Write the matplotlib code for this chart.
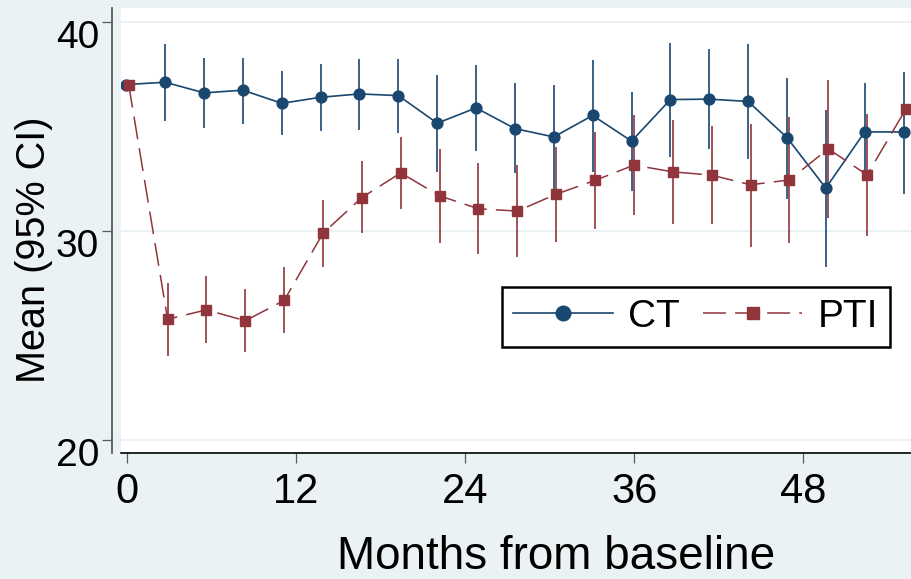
import numpy as np
import matplotlib
matplotlib.use("Agg")
import matplotlib.pyplot as plt
import matplotlib.transforms as mtransforms

plt.rcParams['font.family'] = ['Liberation Sans', 'DejaVu Sans']

# months from baseline (12-week visits)
months = [0, 2.76, 5.52, 8.28, 11.04, 13.8, 16.56, 19.32, 22.08, 24.84, 27.6,
          30.36, 33.12, 35.88, 38.64, 41.4, 44.16, 46.92, 49.68, 52.44, 55.2]

ct_mean = [37.02, 37.13, 36.62, 36.75, 36.12, 36.41, 36.57, 36.49, 35.17, 35.90, 34.91,
           34.51, 35.54, 34.31, 36.30, 36.32, 36.21, 34.48, 32.06, 34.75, 34.75]
ct_lo = [np.nan, 35.28, 34.94, 35.15, 34.58, 34.80, 34.83, 34.70, 32.81, 33.84, 32.76,
         31.99, 32.84, 31.93, 33.56, 33.91, 33.43, 31.56, 28.26, 32.92, 31.80]
ct_hi = [np.nan, 38.95, 38.29, 38.29, 37.66, 37.99, 38.23, 38.26, 37.46, 37.94, 37.07,
         36.99, 38.18, 36.67, 39.01, 38.71, 38.95, 37.35, 35.79, 37.07, 37.62]

pti_mean = [37.0, 25.78, 26.23, 25.71, 26.68, 29.90, 31.61, 32.79, 31.69, 31.07, 30.96,
            31.77, 32.43, 33.16, 32.84, 32.68, 32.22, 32.45, 33.94, 32.69, 35.85]
pti_lo = [np.nan, 24.03, 24.63, 24.20, 25.13, 28.29, 29.92, 31.07, 29.44, 28.90, 28.76,
          29.49, 30.08, 30.77, 30.33, 30.33, 29.25, 29.44, 30.61, 29.76, np.nan]
pti_hi = [np.nan, 27.53, 27.86, 27.21, 28.26, 31.48, 33.35, 34.51, 33.94, 33.24, 33.16,
          34.03, 34.75, 35.55, 35.34, 35.02, 35.15, 35.47, 37.22, 35.60, np.nan]

navy = '#1a476f'
maroon = '#90353b'
bg = '#eaf2f3'

fig = plt.figure(figsize=(9.12, 5.79), dpi=100, facecolor=bg)
ax = fig.add_axes([120.7 / 912, 1 - 452.5 / 579, 1 - 120.7 / 912, (452.5 - 8.3) / 579])
ax.set_facecolor('white')

x = np.array(months)
x_ct = x - 0.07
x_pti = x + 0.1

# CI spikes
ax.vlines(x_ct, ct_lo, ct_hi, color=navy, lw=1.2, zorder=2)
ax.vlines(x_pti, pti_lo, pti_hi, color=maroon, lw=1.2, zorder=2)

ax.plot(x_ct, ct_mean, color=navy, lw=1.2, marker='o', ms=7.8, label='CT', zorder=3)
ax.plot(x_pti, pti_mean, color=maroon, lw=1.1, ls=(0, (15, 6)), marker='s', ms=6.8,
        label='PTI', zorder=4)

ax.set_xlim(-0.47, 55.73)
ax.set_ylim(19.40, 40.67)
ax.set_xticks([0, 12, 24, 36, 48])
ax.set_yticks([20, 30, 40])

ax.grid(axis='y', color=bg, lw=1.5, zorder=0)
ax.set_axisbelow(True)

for s in ['top', 'right']:
    ax.spines[s].set_visible(False)
ax.spines['left'].set_position(('outward', 6.5))
ax.spines['left'].set_color('#5a5a5a')
ax.spines['left'].set_linewidth(1.3)
ax.spines['bottom'].set_color('black')
ax.spines['bottom'].set_linewidth(1.2)

ax.tick_params(axis='both', direction='out', length=7, width=0.9, color='#5a5a5a')
ax.tick_params(axis='y', labelsize=28, pad=2)
ax.tick_params(axis='x', labelsize=30, pad=7)

# shift y tick labels down a little (Stata-like placement)
off = mtransforms.ScaledTranslation(0, -12 / 100, fig.dpi_scale_trans)
for lab in ax.get_yticklabels():
    lab.set_transform(lab.get_transform() + off)

ax.set_xlabel('Months from baseline', fontsize=33)
ax.xaxis.set_label_coords((556 - 120.7) / (912 - 120.7), -(557 - 452.5) / (452.5 - 8.3))
ax.xaxis.label.set_va('center')
ax.set_ylabel('Mean (95% CI)', fontsize=28.5)
ax.yaxis.set_label_coords(-(120.7 - 34) / (912 - 120.7), (452.5 - 250) / (452.5 - 8.3))
ax.yaxis.label.set_va('center')

leg = ax.legend(ncol=2, fontsize=28, loc='upper left',
                bbox_to_anchor=((501.7 - 120.7) / (912 - 120.7), (452.5 - 287.3) / (452.5 - 8.3)),
                frameon=True, fancybox=False, edgecolor='black', framealpha=1,
                handlelength=2.55, handletextpad=0.4, columnspacing=0.6,
                borderpad=0.3, borderaxespad=0, markerscale=1.35)
leg.get_frame().set_linewidth(1.8)

fig.savefig('out.png', dpi=100, facecolor=bg)
